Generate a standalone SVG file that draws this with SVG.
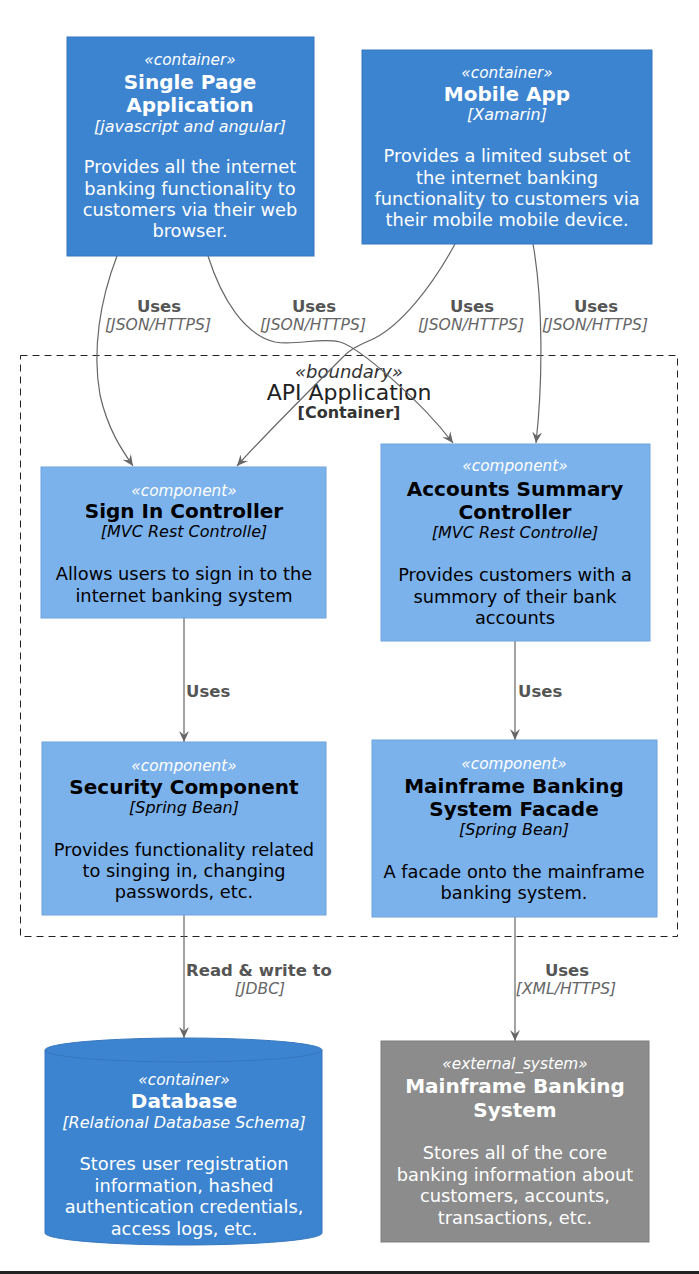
<svg xmlns="http://www.w3.org/2000/svg" width="699" height="1274" viewBox="0 0 699 1274">
<defs>
<style>
text{font-family:"DejaVu Sans","Liberation Sans",sans-serif;text-anchor:middle}
.st{font-size:15.3px;font-style:italic}
.ti{font-size:20px;font-weight:bold}
.te{font-size:16px;font-style:italic}
.de{font-size:17.8px}
.w{fill:#ffffff}
.k{fill:#000000}
.cont{fill:#3d84d0;stroke:#3577be;stroke-width:1}
.comp{fill:#7cb2ec;stroke:#6fa3dc;stroke-width:1}
.ext{fill:#8c8c8c;stroke:#7e7e7e;stroke-width:1}
.edge{fill:none;stroke:#666666;stroke-width:1.2}
.el{font-size:16.5px;font-weight:bold;fill:#555555}
.et{font-size:15.6px;font-style:italic;fill:#666666}
</style>
<marker id="arr" viewBox="0 0 12 12" refX="11" refY="6" markerWidth="12" markerHeight="12" markerUnits="userSpaceOnUse" orient="auto">
<path d="M0,1 L11,6 L0,11 L4,6 Z" fill="#666666"/>
</marker>
</defs>
<rect width="699" height="1274" fill="#ffffff"/>

<g id="boundary-api">
<rect x="20.5" y="355.5" width="657" height="581" fill="none" stroke="#222222" stroke-width="1" stroke-dasharray="7,5"/>
<text x="349" y="378" style="font-size:18px;font-style:italic;fill:#333">«boundary»</text>
<text x="349" y="400" style="font-size:22px;fill:#222">API Application</text>
<text x="349" y="418" style="font-size:16px;font-weight:bold;fill:#333">[Container]</text>
</g>

<g id="connectors">
<path class="edge" marker-end="url(#arr)" d="M117,256 C100,300 92,350 100,395 C108,430 122,450 133,466"/>
<path class="edge" marker-end="url(#arr)" d="M208,256 C222,300 245,335 275,342 C295,346 320,337 340,342 C360,348 420,400 453,443"/>
<path class="edge" marker-end="url(#arr)" d="M455,244 C430,290 400,325 375,338 C360,345 352,347 340,360 C300,400 260,440 237,466"/>
<path class="edge" marker-end="url(#arr)" d="M533,244 C543,300 543,380 536,443"/>
<path class="edge" marker-end="url(#arr)" d="M184,618 L184,742"/>
<path class="edge" marker-end="url(#arr)" d="M515,641 L515,740"/>
<path class="edge" marker-end="url(#arr)" d="M184,915 L184,1038"/>
<path class="edge" marker-end="url(#arr)" d="M515,917 L515,1041"/>
<text x="159" y="312" class="el">Uses</text>
<text x="158" y="330" class="et">[JSON/HTTPS]</text>
<text x="314" y="312" class="el">Uses</text>
<text x="313" y="330" class="et">[JSON/HTTPS]</text>
<text x="472" y="312" class="el">Uses</text>
<text x="471" y="330" class="et">[JSON/HTTPS]</text>
<text x="596" y="312" class="el">Uses</text>
<text x="595" y="330" class="et">[JSON/HTTPS]</text>
<text x="186" y="697" class="el" style="text-anchor:start">Uses</text>
<text x="518" y="697" class="el" style="text-anchor:start">Uses</text>
<text x="186" y="976" class="el" style="text-anchor:start">Read &amp; write to</text>
<text x="260" y="994" class="et">[JDBC]</text>
<text x="567" y="976" class="el">Uses</text>
<text x="566" y="994" class="et">[XML/HTTPS]</text>
</g>

<g id="spa">
<rect class="cont" x="67" y="37" width="247" height="219"/>
<text x="190" y="65" class="st w">«container»</text>
<text x="190" y="89" class="ti w">Single Page</text>
<text x="190" y="112" class="ti w">Application</text>
<text x="190" y="132" class="te w">[javascript and angular]</text>
<text x="190" y="173" class="de w">Provides all the internet</text>
<text x="190" y="195" class="de w">banking functionality to</text>
<text x="190" y="216" class="de w">customers via their web</text>
<text x="190" y="237" class="de w">browser.</text>
</g>

<g id="mobile">
<rect class="cont" x="362" y="50" width="290" height="194"/>
<text x="507" y="78" class="st w">«container»</text>
<text x="507" y="101" class="ti w">Mobile App</text>
<text x="507" y="120" class="te w">[Xamarin]</text>
<text x="507" y="162" class="de w">Provides a limited subset ot</text>
<text x="507" y="184" class="de w">the internet banking</text>
<text x="507" y="205" class="de w">functionality to customers via</text>
<text x="507" y="226" class="de w">their mobile mobile device.</text>
</g>

<g id="signin">
<rect class="comp" x="41" y="467" width="285" height="151"/>
<text x="184" y="496" class="st w">«component»</text>
<text x="184" y="518" class="ti k">Sign In Controller</text>
<text x="184" y="537" class="te k">[MVC Rest Controlle]</text>
<text x="184" y="580" class="de k">Allows users to sign in to the</text>
<text x="184" y="602" class="de k">internet banking system</text>
</g>

<g id="accounts">
<rect class="comp" x="381" y="444" width="269" height="197"/>
<text x="515" y="471" class="st w">«component»</text>
<text x="515" y="496" class="ti k">Accounts Summary</text>
<text x="515" y="519" class="ti k">Controller</text>
<text x="515" y="538" class="te k">[MVC Rest Controlle]</text>
<text x="515" y="581" class="de k">Provides customers with a</text>
<text x="515" y="603" class="de k">summory of their bank</text>
<text x="515" y="624" class="de k">accounts</text>
</g>

<g id="security">
<rect class="comp" x="42" y="742" width="284" height="173"/>
<text x="184" y="771" class="st w">«component»</text>
<text x="184" y="794" class="ti k">Security Component</text>
<text x="184" y="813" class="te k">[Spring Bean]</text>
<text x="184" y="856" class="de k">Provides functionality related</text>
<text x="184" y="877" class="de k">to singing in, changing</text>
<text x="184" y="898" class="de k">passwords, etc.</text>
</g>

<g id="facade">
<rect class="comp" x="372" y="740" width="285" height="177"/>
<text x="514" y="769" class="st w">«component»</text>
<text x="514" y="793" class="ti k">Mainframe Banking</text>
<text x="514" y="816" class="ti k">System Facade</text>
<text x="514" y="835" class="te k">[Spring Bean]</text>
<text x="514" y="878" class="de k">A facade onto the mainframe</text>
<text x="514" y="899" class="de k">banking system.</text>
</g>

<g id="database">
<path class="cont" d="M45,1050 A138.5,12 0 0 1 322,1050 L322,1233 A138.5,12 0 0 1 45,1233 Z"/>
<path d="M45,1050 A138.5,12 0 0 0 322,1050" fill="none" stroke="#3577be" stroke-width="1"/>
<text x="184" y="1085" class="st w">«container»</text>
<text x="184" y="1108" class="ti w">Database</text>
<text x="184" y="1128" class="te w">[Relational Database Schema]</text>
<text x="184" y="1170" class="de w">Stores user registration</text>
<text x="184" y="1192" class="de w">information, hashed</text>
<text x="184" y="1213" class="de w">authentication credentials,</text>
<text x="184" y="1235" class="de w">access logs, etc.</text>
</g>

<g id="mainframe">
<rect class="ext" x="381" y="1041" width="268" height="201"/>
<text x="515" y="1069" class="st w">«external_system»</text>
<text x="515" y="1093" class="ti w">Mainframe Banking</text>
<text x="515" y="1117" class="ti w">System</text>
<text x="515" y="1159" class="de w">Stores all of the core</text>
<text x="515" y="1181" class="de w">banking information about</text>
<text x="515" y="1202" class="de w">customers, accounts,</text>
<text x="515" y="1224" class="de w">transactions, etc.</text>
</g>

<rect x="0" y="1271" width="699" height="3" fill="#222222"/>
</svg>
